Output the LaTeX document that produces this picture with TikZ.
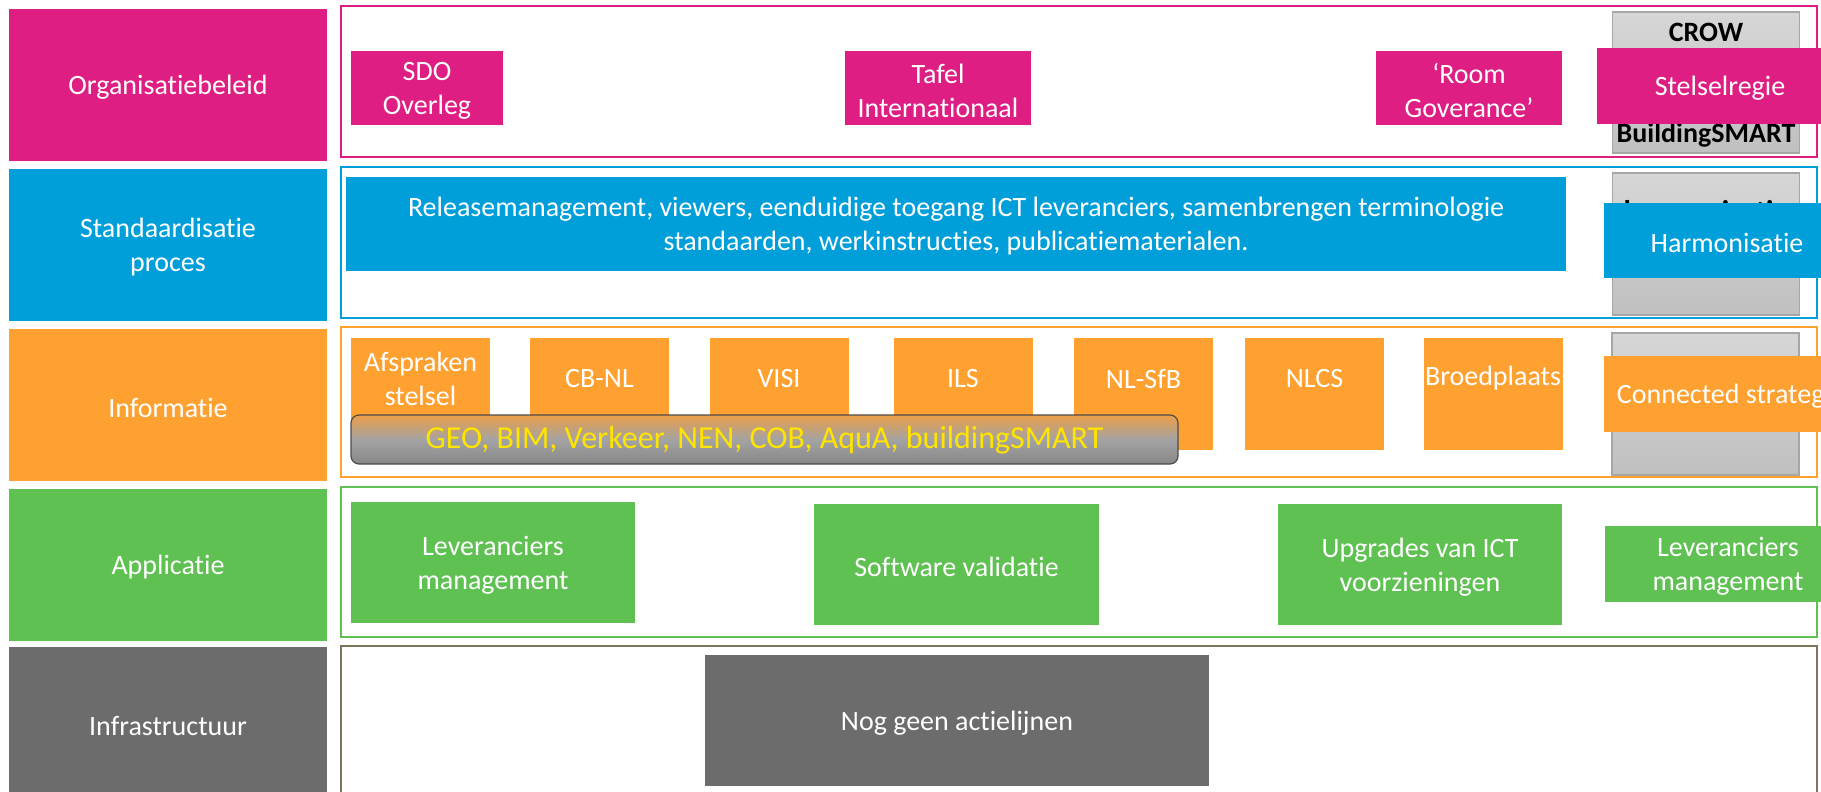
\documentclass[tikz,border=0pt]{standalone}
\usepackage{fontspec}
\setmainfont{Carlito}[RawFeature={-liga}]
\definecolor{mg}{RGB}{222,30,131}
\definecolor{bl}{RGB}{0,159,218}
\definecolor{og}{RGB}{255,161,48}
\definecolor{gn}{RGB}{94,193,82}
\definecolor{dg}{RGB}{108,108,108}
\definecolor{ol}{RGB}{125,118,92}
\definecolor{gtop}{RGB}{214,214,214}
\definecolor{gbot}{RGB}{192,192,192}
\definecolor{gbd}{RGB}{166,166,166}
\definecolor{yl}{RGB}{255,228,0}
\definecolor{bartop}{RGB}{236,158,72}
\newcommand\fsz{\fontsize{28}{34}\selectfont}
\newcommand\fszb{\fontsize{28}{34}\selectfont\bfseries}
\newcommand\lowstrut{\rule{0pt}{24.5pt}}
\begin{document}
\begin{tikzpicture}[x=1pt,y=-1pt,
  every node/.style={inner sep=0pt, align=center, font=\fsz},
  lab/.style={fill=#1, text=white, minimum width=318pt, minimum height=152pt},
  frm/.style={draw=#1, line width=2pt, minimum width=1476pt, minimum height=151pt},
  bx/.style={fill=#1, text=white},
  gbox/.style={draw=gbd, line width=1.5pt, top color=gtop, bottom color=gbot, minimum width=187pt, minimum height=142pt},
  txt/.style={text=white}]
\useasboundingbox (0,0) rectangle (1821,792);
\clip (0,0) rectangle (1821,792);

% left labels
\node[lab=mg] (orgL) at (168,85) {\lowstrut Organisatiebeleid};
\node[lab=bl] (stdL) at (168,245) {\lowstrut Standaardisatie\\proces};
\node[lab=og] (infL) at (168,405) {\lowstrut Informatie};
\node[lab=gn] (appL) at (168,565) {\lowstrut Applicatie};
\node[lab=dg, minimum height=160pt] (infraL) at (168,727) {};
\node[txt] (infraT) at (168,723) {\lowstrut Infrastructuur};

% frames
\node[frm=mg] (orgF) at (1079,81.5) {};
\node[frm=bl] (stdF) at (1079,242) {};
\node[frm=og, minimum height=150pt] (infF) at (1079,402) {};
\node[frm=gn, minimum height=150pt] (appF) at (1079,562) {};
\node[frm=ol, minimum height=160pt] (infraF) at (1079,726) {};

% organisatiebeleid row
\node[bx=mg, minimum width=152pt, minimum height=74pt] (sdo) at (427,88) {\lowstrut SDO\\Overleg};
\node[bx=mg, minimum width=186pt, minimum height=74pt] (tafel) at (938,88) {\lowstrut Tafel\\Internationaal};
\node[bx=mg, minimum width=186pt, minimum height=74pt] (room) at (1469,88) {\lowstrut ‘Room\\Goverance’};
\node[gbox, minimum height=141pt] (crowbox) at (1706,82.5) {};
\node[font=\fszb] (crow) at (1706,32) {CROW};
\node[font=\fszb] (bsm) at (1706,135) {BuildingSMART};
\node[bx=mg, minimum width=246pt, minimum height=76pt] (stelsel) at (1720,86) {\lowstrut Stelselregie};

% standaardisatie row
\node[bx=bl, minimum width=1220pt, minimum height=94pt] (release) at (956,224)
  {\lowstrut Releasemanagement, viewers, eenduidige toegang ICT leveranciers, samenbrengen terminologie\\standaarden, werkinstructies, publicatiematerialen.};
\node[gbox] (stdbox) at (1706,244) {};
\node[font=\fontsize{30}{36}\selectfont\bfseries, anchor=base] (harmh) at (1706,221) {harmonisatie};
\node[bx=bl, minimum width=246pt, minimum height=75pt] (harm) at (1727,240.5) {\lowstrut Harmonisatie};

% informatie row
\foreach \n/\x in {afs/420.5, cbnl/599.5, visi/779, ils/963, nlsfb/1143.5, nlcs/1314.5, broed/1493}
  \node[fill=og, minimum width=139pt, minimum height=112pt] (\n) at (\x,394) {};
\node[txt] (afsT) at (420.5,378.5) {Afspraken\\stelsel};
\node[txt] (cbnlT) at (599.5,378.5) {CB-NL};
\node[txt] (visiT) at (779,378.5) {VISI};
\node[txt] (ilsT) at (963,378.5) {ILS};
\node[txt] (nlsfbT) at (1143.5,378.5) {NL-SfB};
\node[txt] (nlcsT) at (1314.5,378.5) {NLCS};
\node[txt] (broedT) at (1493,378.5) {Broedplaats};
\node[draw=black!70, line width=1.2pt, rounded corners=8pt, top color=bartop, bottom color=black!47, middle color=black!36,
      minimum width=827pt, minimum height=49pt, text=yl, font=\fontsize{32}{38}\selectfont,
      text height=20pt, text depth=3pt] (bar) at (764.5,439.5) {GEO, BIM, Verkeer, NEN, COB, AquA, buildingSMART};
\node[gbox] (infbox) at (1705.5,404) {};
\node[bx=og, minimum width=246pt, minimum height=76pt] (conn) at (1727,394) {\lowstrut Connected strategy};

% applicatie row
\node[bx=gn, minimum width=284pt, minimum height=121pt] (lev1) at (493,562.5) {\lowstrut Leveranciers\\management};
\node[bx=gn, minimum width=285pt, minimum height=121pt] (soft) at (956.5,564.5) {\lowstrut Software validatie};
\node[bx=gn, minimum width=284pt, minimum height=121pt] (upg) at (1420,564.5) {\lowstrut Upgrades van ICT\\voorzieningen};
\node[bx=gn, minimum width=246pt, minimum height=76pt] (lev2) at (1728,564) {\lowstrut Leveranciers\\management};

% infrastructuur row
\node[bx=dg, minimum width=504pt, minimum height=131pt] (nog) at (957,720.5) {\lowstrut Nog geen actielijnen};
\end{tikzpicture}
\end{document}
